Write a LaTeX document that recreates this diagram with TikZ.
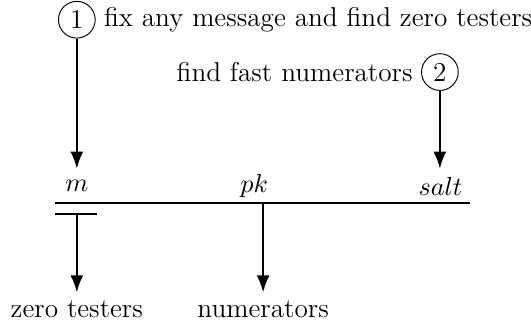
\documentclass[tikz,border=0pt]{standalone}
\usepackage{tikz}
\usetikzlibrary{positioning,arrows.meta}

\tikzset{
  stepnum/.style={draw,circle,inner sep=1.5pt,minimum size=0.54cm},
  flow/.style={thick,-{Latex[length=2.5mm,width=1.9mm]}},
}

\begin{document}
\begin{tikzpicture}[font=\fontsize{11.4}{13.6}\selectfont]
  \useasboundingbox (-0.81,-1.83) rectangle (7.0,2.98);
  % the public parameters
  \draw[thick] (0,0) coordinate (lend) -- (6.1,0) coordinate (rend);
  \foreach \x/\lx/\name/\txt in {0.32/0.32/m/m, 3.06/2.93/pk/pk, 5.66/5.67/salt/salt} {
    \node (\name) at (\lx,0.245) {$\txt$};
    \coordinate (\name-on) at (\x,0);
  }
  \draw[thick] (0,-0.166) -- (0.62,-0.166);
  \coordinate (m-bar) at (0.32,-0.166);
  % steps
  \node[stepnum] (s1) at (0.32,2.69) {1};
  \node[anchor=west] (t1) at (s1.east) {fix any message and find zero testers};
  \node[stepnum] (s2) at (5.66,1.92) {2};
  \node[anchor=east] (t2) at (s2.west) {find fast numerators};
  \draw[flow] (s1) -- (s1 |- 0,0.5);
  \draw[flow] (s2) -- (s2 |- 0,0.5);
  % outputs
  \node (zt) at (0.32,-1.57) {zero testers};
  \node (num) at (3.06,-1.57) {numerators};
  \draw[flow] (m-bar) -- (zt);
  \draw[flow] (pk-on) -- (num);
\end{tikzpicture}
\end{document}
